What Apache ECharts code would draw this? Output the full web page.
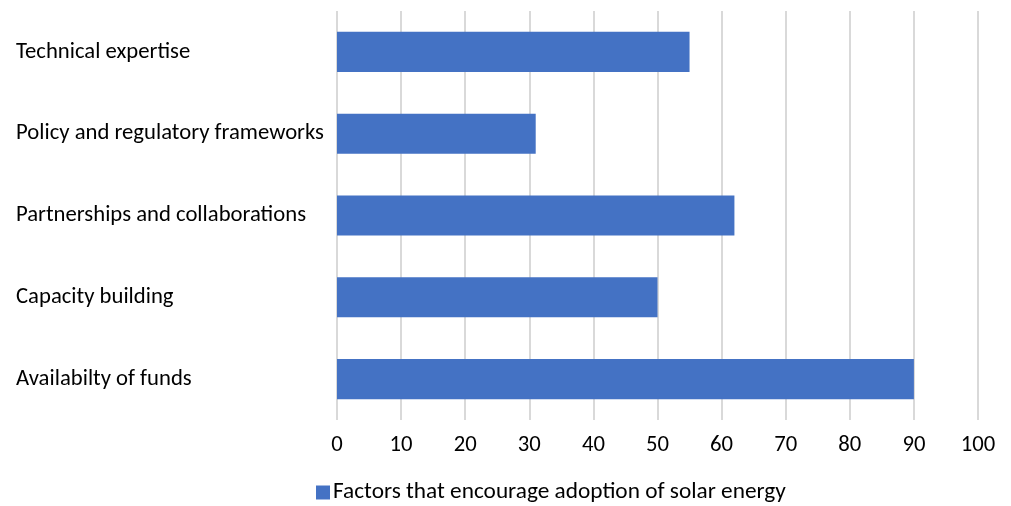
<!DOCTYPE html>
<html>
<head>
<meta charset="utf-8">
<script src="https://cdn.jsdelivr.net/npm/echarts@6/dist/echarts.min.js"></script>
<style>
  html, body { margin: 0; padding: 0; background: #fff; }
  #chart { width: 1011px; height: 506px; }
</style>
</head>
<body>
<div id="chart"></div>
<script>
// Categories listed bottom-to-top (category axis on y starts at the bottom)
const categories = [
  'Availabilty of funds',
  'Capacity building',
  'Partnerships and collaborations',
  'Policy and regulatory frameworks',
  'Technical expertise'
];
const seriesName = 'Factors that encourage adoption of solar energy';
const values = [90, 50, 62, 31, 55];

const FONT = 'Carlito, "Open Sans", "Noto Sans", sans-serif';
const FS = 22.7;

const chart = echarts.init(document.getElementById('chart'));
chart.setOption({
  animation: false,
  grid: { left: 337, right: 33, top: 11, bottom: 86, containLabel: false },
  xAxis: {
    type: 'value',
    min: 0,
    max: 100,
    interval: 10,
    axisLine: { show: false },
    axisTick: { show: false },
    splitLine: { show: true, lineStyle: { color: '#d9d9d9', width: 2 } },
    axisLabel: { color: '#000', fontSize: FS, fontFamily: FONT, margin: 14 }
  },
  yAxis: {
    type: 'category',
    data: categories,
    axisLine: { show: false },
    axisTick: { show: false },
    axisLabel: { color: '#000', fontSize: FS, fontFamily: FONT, align: 'left', margin: 321 }
  },
  legend: {
    bottom: -3,
    left: 311,
    icon: 'rect',
    itemWidth: 14,
    itemHeight: 14,
    itemGap: 4,
    textStyle: { color: '#000', fontSize: 23.3, fontFamily: FONT, padding: [0, 0, 0, -2] },
    data: [seriesName]
  },
  series: [{
    name: seriesName,
    type: 'bar',
    data: values,
    barWidth: '49%',
    itemStyle: { color: '#4472c4' }
  }]
});
</script>
</body>
</html>
